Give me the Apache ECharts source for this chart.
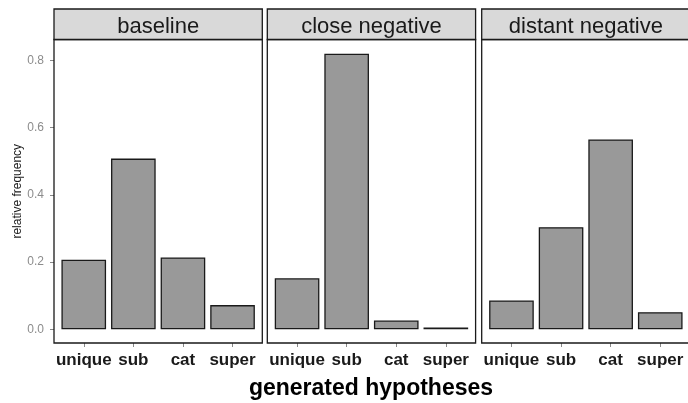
<!DOCTYPE html>
<html>
<head>
<meta charset="utf-8">
<script src="https://cdn.jsdelivr.net/npm/echarts@6/dist/echarts.min.js"></script>
<style>
html, body { margin: 0; padding: 0; background: #fff; }
#chart { width: 688px; height: 403px; }
</style>
</head>
<body>
<div id="chart"></div>
<script>
const panels = ['baseline', 'close negative', 'distant negative'];
const categories = ['unique', 'sub', 'cat', 'super'];
const baseline = [0.207, 0.508, 0.214, 0.072];
const closeNegative = [0.152, 0.820, 0.026, 0.005];
const distantNegative = [0.086, 0.304, 0.565, 0.051];
const yTicks = [0, 0.2, 0.4, 0.6, 0.8];

window.onload = function () {
    let chart = echarts.init(document.getElementById('chart'));
    let values = [baseline, closeNegative, distantNegative];

    // panel geometry (ggplot-like facets)
    let panelLeft = [54, 267.3, 481.7];
    let panelW = 208.3;
    let panelTop = 39.5;
    let panelBottom = 343;
    let stripTop = 9;
    let unit = panelW / 4.2;
    let zeroY = 329.3;
    let step = 67.2;          // px per 0.2
    let yMax = 1.0;           // axis runs past the frame; 1.0 falls off the canvas
    let font = 'Liberation Sans, Arial, sans-serif';
    let lastTick = yTicks[yTicks.length - 1];

    let grids = [], xAxes = [], yAxes = [], series = [], graphics = [];
    panels.forEach((name, i) => {
        grids.push({
            left: panelLeft[i] + 0.1 * unit,
            width: 4 * unit,
            top: zeroY - step * yMax / 0.2,
            height: step * yMax / 0.2,
            outerBoundsMode: 'none',
            containLabel: false
        });
        xAxes.push({
            type: 'category',
            gridIndex: i,
            data: categories,
            position: 'bottom',
            offset: panelBottom - zeroY,
            axisLine: { show: false, onZero: false },
            axisTick: { show: true, alignWithLabel: true, length: 4, lineStyle: { color: '#888', width: 1 } },
            axisLabel: { color: '#1a1a1a', fontSize: 17, fontWeight: 'bold', fontFamily: font, margin: 9, interval: 0 }
        });
        yAxes.push({
            type: 'value',
            gridIndex: i,
            min: yTicks[0],
            max: yMax,
            interval: 0.2,
            offset: 0.1 * unit,
            splitLine: { show: false },
            axisLine: { show: false, onZero: false },
            axisTick: { show: i === 0, length: 4, lineStyle: { color: '#888', width: 1 } },
            axisLabel: {
                show: i === 0, color: '#8c8c8c', fontSize: 12, fontFamily: font, margin: 10,
                formatter: (v) => (v <= lastTick + 1e-9 ? v.toFixed(1) : '')
            }
        });
        series.push({
            type: 'bar',
            xAxisIndex: i,
            yAxisIndex: i,
            data: values[i],
            barWidth: '90%',
            itemStyle: { color: '#999999', borderColor: '#1a1a1a', borderWidth: 1.3 },
            silent: true
        });
        // panel frame
        graphics.push({
            type: 'rect',
            shape: { x: panelLeft[i], y: panelTop, width: panelW, height: panelBottom - panelTop },
            style: { fill: 'none', stroke: '#1a1a1a', lineWidth: 1.3 },
            z: 10
        });
        // strip
        graphics.push({
            type: 'rect',
            shape: { x: panelLeft[i], y: stripTop, width: panelW, height: panelTop - stripTop },
            style: { fill: '#d9d9d9', stroke: '#1a1a1a', lineWidth: 1.3 },
            z: 10
        });
        graphics.push({
            type: 'text',
            x: panelLeft[i] + panelW / 2,
            y: (stripTop + panelTop) / 2 + 2.5,
            style: {
                text: name, fill: '#1a1a1a', fontSize: 22, fontFamily: font,
                textAlign: 'center', textVerticalAlign: 'middle'
            },
            z: 11
        });
    });

    // axis titles
    graphics.push({
        type: 'text',
        x: 18,
        y: (panelTop + panelBottom) / 2,
        rotation: Math.PI / 2,
        style: {
            text: 'relative frequency', fill: '#1a1a1a', fontSize: 12, fontFamily: font,
            textAlign: 'center', textVerticalAlign: 'middle'
        }
    });
    graphics.push({
        type: 'text',
        x: 371,
        y: 389,
        style: {
            text: 'generated hypotheses', fill: '#000', fontSize: 23, fontWeight: 'bold', fontFamily: font,
            textAlign: 'center', textVerticalAlign: 'middle'
        }
    });

    let option = {
        animation: false,
        grid: grids,
        xAxis: xAxes,
        yAxis: yAxes,
        series: series,
        graphic: graphics
    };
    chart.setOption(option);
}
</script>
</body>
</html>
